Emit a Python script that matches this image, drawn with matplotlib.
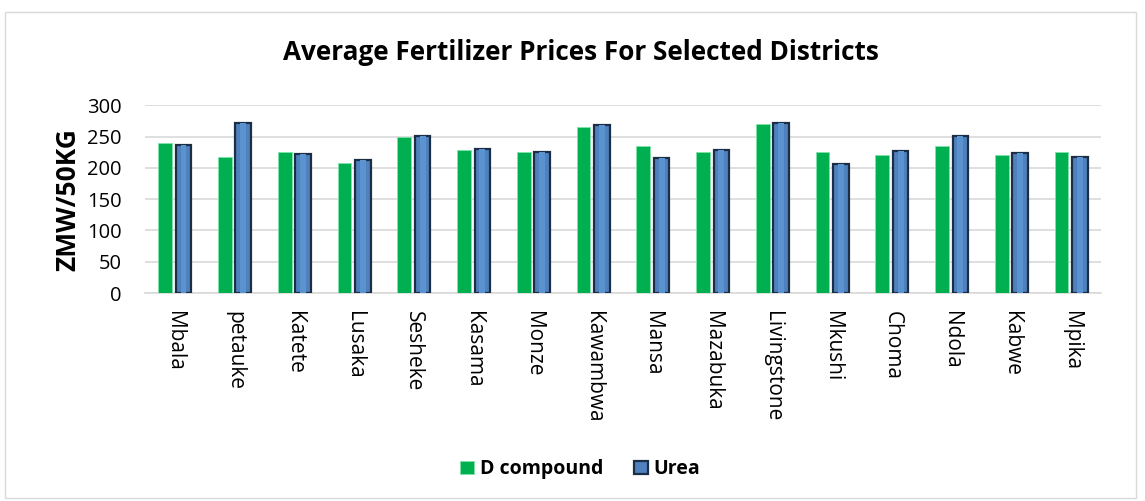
import matplotlib.pyplot as plt
import numpy as np
from matplotlib.patches import Rectangle

districts = ["Mbala", "petauke", "Katete", "Lusaka", "Sesheke", "Kasama", "Monze",
             "Kawambwa", "Mansa", "Mazabuka", "Livingstone", "Mkushi", "Choma",
             "Ndola", "Kabwe", "Mpika"]
d_compound = [239, 218, 225, 208, 249, 229, 225, 265, 235, 225, 270, 225, 220, 235, 220, 225]
urea = [236, 271, 222, 212, 251, 230, 226, 268, 216, 228, 272, 206, 227, 251, 223, 218]

plt.rcParams["font.family"] = ["Open Sans", "DejaVu Sans"]

fig = plt.figure(figsize=(11.45, 5.01), dpi=100)
fig.patches.append(Rectangle((0.004, 0.006), 0.988, 0.97, transform=fig.transFigure,
                             fill=False, edgecolor="#d9d9d9", lw=1))
ax = fig.add_axes([0.1266, 0.415, 0.835, 0.375])

x = np.arange(len(districts))
ax.bar(x - 0.16, d_compound, width=0.23, color="#00b050", edgecolor="#7ee3a8",
       lw=0.6, zorder=3, label="D compound")
ax.bar(x + 0.145, urea, width=0.26, color="#4f81bd", edgecolor="#1c2e45",
       lw=1.6, zorder=3, label="Urea")
# lighter inner strip to fake the bevel look
ax.bar(x + 0.145, urea, width=0.10, color="#5b93d0", lw=0, zorder=4)

ax.set_xlim(-0.5, len(districts) - 0.5)
ax.set_ylim(0, 300)
ax.set_yticks(range(0, 301, 50))
ax.yaxis.grid(True, color="#d9d9d9", lw=1.2, zorder=0)
ax.set_axisbelow(True)
for s in ["top", "right", "left"]:
    ax.spines[s].set_visible(False)
ax.spines["bottom"].set_color("#d9d9d9")
ax.spines["bottom"].set_linewidth(1.2)
ax.tick_params(axis="y", length=0, labelsize=14.5, pad=17)
ax.tick_params(axis="x", length=0, pad=13)
ax.set_xticks(x)
ax.set_xticklabels(districts, rotation=-90, fontsize=15, va="top", ha="center")

ax.set_ylabel("ZMW/50KG", fontsize=19, fontweight="bold", labelpad=4)
fig.text(0.507, 0.895, "Average Fertilizer Prices For Selected Districts",
         ha="center", va="center", fontsize=18.8, fontweight="bold")

leg = fig.legend(loc="center", bbox_to_anchor=(0.507, 0.063), ncol=2, frameon=False,
                 handlelength=0.7, handleheight=0.7, handletextpad=0.3, columnspacing=1.6,
                 prop={"weight": "bold", "size": 14})

fig.savefig("out.png", dpi=100)
